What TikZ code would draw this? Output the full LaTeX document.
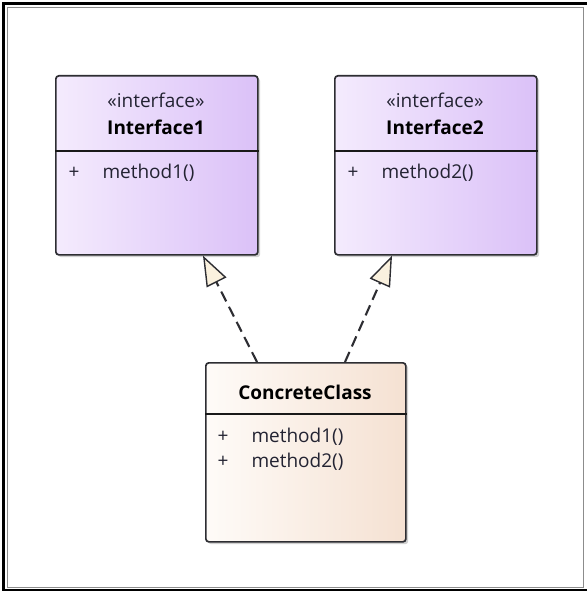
\documentclass[tikz,border=0pt]{standalone}
\usepackage{fontspec}
\setmainfont{Open Sans}
\usetikzlibrary{arrows.meta}
\definecolor{ifl}{RGB}{244,235,253}
\definecolor{ifr}{RGB}{219,193,248}
\definecolor{ccl}{RGB}{254,251,248}
\definecolor{ccr}{RGB}{245,225,210}
\definecolor{tri}{RGB}{250,241,222}
\definecolor{edge}{RGB}{45,45,50}
\definecolor{txt}{RGB}{35,35,50}
\tikzset{
  umlbox/.style={draw=edge, line width=1.7pt, rounded corners=3pt, anchor=north west, inner sep=0pt},
  ifbox/.style={umlbox, left color=ifl, right color=ifr},
  ccbox/.style={umlbox, left color=ccl, right color=ccr},
  shadowbox/.style={fill=black, opacity=0.18, rounded corners=3pt, anchor=north west, inner sep=0pt, draw=none},
  sep/.style={line width=1.6pt, draw=black!90},
  stereo/.style={font=\fontsize{19}{22}\selectfont, text=txt},
  cname/.style={font=\fontsize{19}{22}\selectfont\bfseries, text=black},
  member/.style={font=\fontsize{19}{22}\selectfont, text=txt, anchor=base west},
  real/.style={draw=edge, line width=2.1pt, dash pattern=on 11pt off 6pt,
    -{Triangle[length=30pt, width=22pt, fill=tri, line width=1.4pt]}},
}
\begin{document}
\begin{tikzpicture}[x=1pt,y=-1pt]
\useasboundingbox (0,0) rectangle (586,591);
\fill[white] (0,0) rectangle (586,591);
\draw[line width=3pt, black] (3.5,3.5) rectangle (588,590);
\draw[line width=1.5pt, black!45] (7.5,7.5) rectangle (583.5,587.5);
% shadows
\node[shadowbox, minimum width=202pt, minimum height=179pt] at (58,78) {};
\node[shadowbox, minimum width=202pt, minimum height=179pt] at (337,78) {};
\node[shadowbox, minimum width=200pt, minimum height=179pt] at (208,365) {};
% boxes
\node[ifbox, minimum width=202pt, minimum height=179pt] (i1) at (55,75) {};
\node[ifbox, minimum width=202pt, minimum height=179pt] (i2) at (334,75) {};
\node[ccbox, minimum width=200pt, minimum height=179pt] (cc) at (205,362) {};
\draw[sep] ([yshift=-76pt]i1.north west) -- ([yshift=-76pt]i1.north east);
\draw[sep] ([yshift=-76pt]i2.north west) -- ([yshift=-76pt]i2.north east);
\draw[sep] ([yshift=-52pt]cc.north west) -- ([yshift=-52pt]cc.north east);
% texts
\node[stereo] (s1) at (156,100) {«interface»};
\node[cname] (n1) at (156,127) {Interface1};
\node[member] (p1) at (65,178) {+};
\node[member] (m1) at (99,178) {method1()};
\node[stereo] (s2) at (435,100) {«interface»};
\node[cname] (n2) at (435,127) {Interface2};
\node[member] (p2) at (344,178) {+};
\node[member] (m2) at (378,178) {method2()};
\node[cname] (n3) at (305,392) {ConcreteClass};
\node[member] (p3) at (214,442) {+};
\node[member] (m3) at (248,442) {method1()};
\node[member] (p4) at (214,467) {+};
\node[member] (m4) at (248,467) {method2()};
% realizations
\draw[real] ([xshift=52pt]cc.north west) -- ([xshift=148pt]i1.south west);
\draw[real] ([xshift=140pt]cc.north west) -- ([xshift=58pt]i2.south west);
\end{tikzpicture}
\end{document}
